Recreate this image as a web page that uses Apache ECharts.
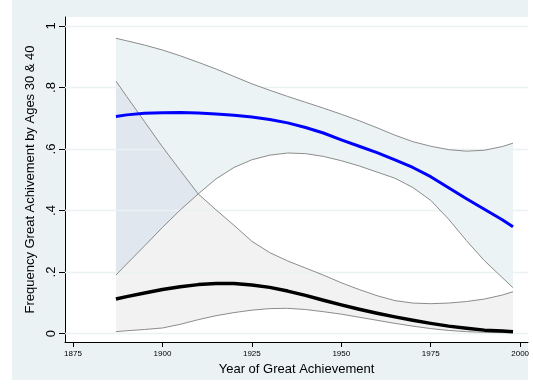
<!DOCTYPE html>
<html>
<head>
<meta charset="utf-8">
<script src="https://cdn.jsdelivr.net/npm/echarts@6/dist/echarts.min.js"></script>
<style>
  html, body { margin: 0; padding: 0; background: #ffffff; }
  #chart { width: 533px; height: 387px; }
</style>
</head>
<body>
<div id="chart"></div>
<script>
// Fitted share of great achievements by ages 30 and 40, with confidence bands
const years = [1887, 1890, 1895, 1900, 1905, 1910, 1915, 1920, 1925, 1930, 1935, 1940,
               1945, 1950, 1955, 1960, 1965, 1970, 1975, 1980, 1985, 1990, 1995, 1998];

// by age 40
const fit40   = [0.706, 0.711, 0.716, 0.718, 0.719, 0.717, 0.714, 0.710, 0.704, 0.696, 0.685, 0.670,
                 0.652, 0.630, 0.609, 0.588, 0.565, 0.540, 0.510, 0.474, 0.438, 0.404, 0.370, 0.347];
const upper40 = [0.960, 0.952, 0.938, 0.922, 0.903, 0.882, 0.860, 0.836, 0.812, 0.791, 0.771, 0.752,
                 0.733, 0.713, 0.692, 0.669, 0.645, 0.624, 0.609, 0.598, 0.593, 0.596, 0.608, 0.619];
const lower40 = [0.190, 0.226, 0.285, 0.345, 0.402, 0.454, 0.503, 0.540, 0.565, 0.580, 0.587, 0.585,
                 0.576, 0.562, 0.545, 0.525, 0.505, 0.475, 0.433, 0.372, 0.302, 0.237, 0.182, 0.149];

// by age 30
const fit30   = [0.112, 0.120, 0.132, 0.143, 0.152, 0.159, 0.163, 0.163, 0.158, 0.150, 0.138, 0.124,
                 0.108, 0.093, 0.079, 0.066, 0.054, 0.043, 0.033, 0.024, 0.017, 0.011, 0.008, 0.006];
const upper30 = [0.821, 0.771, 0.689, 0.607, 0.530, 0.454, 0.402, 0.352, 0.300, 0.263, 0.236, 0.213,
                 0.190, 0.165, 0.143, 0.123, 0.107, 0.099, 0.097, 0.099, 0.104, 0.112, 0.125, 0.136];
const lower30 = [0.006, 0.009, 0.013, 0.018, 0.030, 0.045, 0.058, 0.068, 0.076, 0.081, 0.082, 0.078,
                 0.071, 0.063, 0.053, 0.043, 0.033, 0.024, 0.016, 0.010, 0.006, 0.004, 0.003, 0.003];

const xTicks = [1875, 1900, 1925, 1950, 1975, 2000];
const yTicks = [0, 0.2, 0.4, 0.6, 0.8, 1];
const yTickLabels = ['0', '.2', '.4', '.6', '.8', '1'];

const FONT = "'Liberation Sans', Arial, Helvetica, sans-serif";

function pairs(xs, ys) { return xs.map((x, i) => [x, ys[i]]); }

// region where the two confidence bands overlap
function overlapPolygon() {
  const top = [], bottom = [];
  for (let i = 0; i < years.length; i++) {
    const hi = Math.min(upper40[i], upper30[i]);
    const lo = Math.max(lower40[i], lower30[i]);
    if (hi >= lo) { top.push([years[i], hi]); bottom.push([years[i], lo]); }
    if (i + 1 < years.length) {
      const hi2 = Math.min(upper40[i + 1], upper30[i + 1]);
      const lo2 = Math.max(lower40[i + 1], lower30[i + 1]);
      const d1 = hi - lo, d2 = hi2 - lo2;
      if ((d1 >= 0) !== (d2 >= 0)) {
        const t = d1 / (d1 - d2);
        const x = years[i] + t * (years[i + 1] - years[i]);
        const y = hi + t * (hi2 - hi);
        top.push([x, y]); bottom.push([x, y]);
      }
    }
  }
  return top.concat(bottom.reverse());
}

function bandPolygon(up, lo) {
  return pairs(years, up).concat(pairs(years, lo).reverse());
}

function polygonSeries(points, color, z) {
  return {
    type: 'custom',
    z: z,
    silent: true,
    data: [[years[0], 0]],
    clip: true,
    renderItem: function (params, api) {
      return {
        type: 'polygon',
        shape: { points: points.map(p => api.coord(p)) },
        style: { fill: color, stroke: null }
      };
    }
  };
}

function lineSeries(ys, color, width, z) {
  return {
    type: 'line',
    z: z,
    data: pairs(years, ys),
    showSymbol: false,
    symbol: 'none',
    smooth: false,
    silent: true,
    lineStyle: { color: color, width: width, cap: 'butt', join: 'round' }
  };
}

const chart = echarts.init(document.getElementById('chart'), null, { renderer: 'canvas' });

chart.setOption({
  animation: false,
  backgroundColor: '#ffffff',
  graphic: [
    { type: 'rect', z: -10, shape: { x: 12, y: 0, width: 516, height: 380 },
      style: { fill: '#eaf2f3' }, silent: true }
  ],
  grid: { left: 65, right: 5, top: 17, bottom: 45, show: true,
          backgroundColor: '#ffffff', borderWidth: 0 },
  xAxis: {
    type: 'value',
    min: 1872.76, max: 2002.2,
    name: 'Year of Great Achievement',
    nameLocation: 'middle',
    nameGap: 10,
    nameTextStyle: { fontFamily: FONT, fontSize: 13, color: '#000' },
    axisLine: { show: true, onZero: false, lineStyle: { color: '#000', width: 1 } },
    axisTick: { show: true, length: 5, customValues: xTicks, lineStyle: { color: '#000' } },
    axisLabel: { customValues: xTicks, fontFamily: FONT, fontSize: 8, color: '#000', margin: 8,
                 formatter: v => String(v) },
    splitLine: { show: false }
  },
  yAxis: {
    type: 'value',
    min: -0.0276, max: 1.0293,
    name: 'Frequency Great Achivement by Ages 30 & 40',
    nameLocation: 'middle',
    nameRotate: 90,
    nameGap: 21,
    nameTextStyle: { fontFamily: FONT, fontSize: 13, color: '#000' },
    axisLine: { show: true, onZero: false, lineStyle: { color: '#000', width: 1 } },
    axisTick: { show: true, length: 6, customValues: yTicks, lineStyle: { color: '#000' } },
    axisLabel: {
      customValues: yTicks, rotate: 90, margin: 7,
      fontFamily: FONT, fontSize: 13, color: '#000',
      formatter: v => yTickLabels[yTicks.indexOf(v)]
    },
    splitLine: { show: false }
  },
  series: [
    // horizontal grid lines at the labelled values
    {
      type: 'line', data: [], silent: true, z: 1,
      markLine: {
        silent: true, symbol: 'none', label: { show: false },
        lineStyle: { color: '#eaf2f3', width: 1.3, type: 'solid' },
        data: yTicks.map(v => ({ yAxis: v }))
      }
    },
    polygonSeries(bandPolygon(upper40, lower40), '#ebf3f4', 2),
    polygonSeries(bandPolygon(upper30, lower30), '#f2f2f2', 3),
    polygonSeries(overlapPolygon(), '#e0e7ee', 4),
    lineSeries(upper40, '#8c8c8c', 1, 5),
    lineSeries(lower40, '#8c8c8c', 1, 5),
    lineSeries(upper30, '#8c8c8c', 1, 5),
    lineSeries(lower30, '#8c8c8c', 1, 5),
    lineSeries(fit40, '#0000ff', 3, 6),
    lineSeries(fit30, '#000000', 3.5, 7)
  ]
});
</script>
</body>
</html>
